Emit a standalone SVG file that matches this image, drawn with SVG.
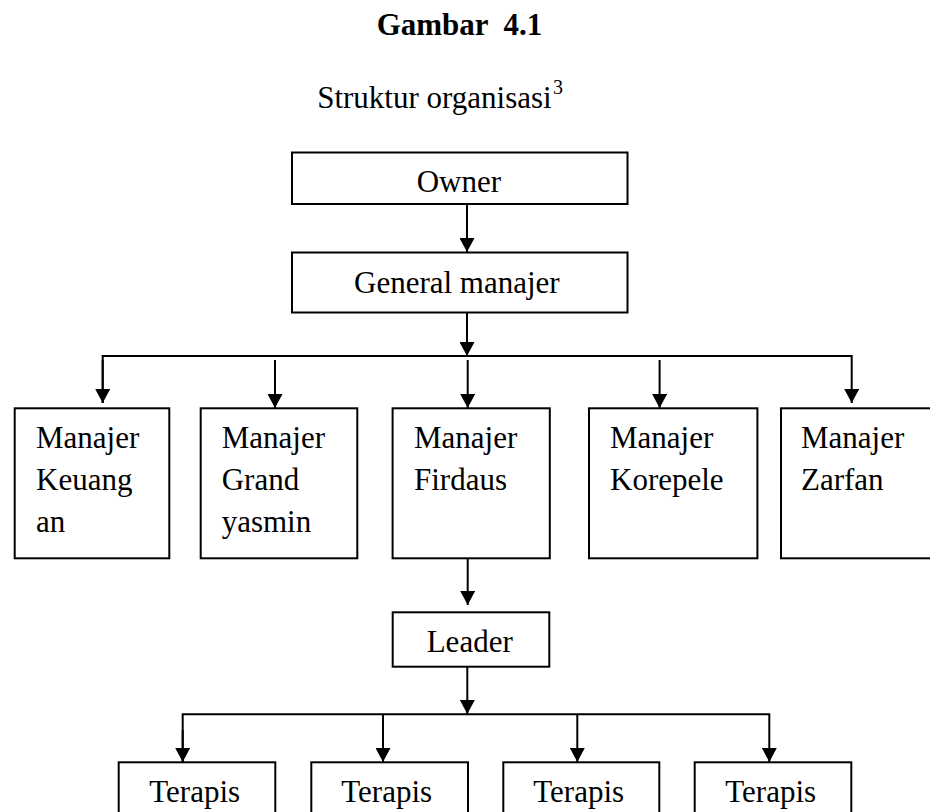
<svg xmlns="http://www.w3.org/2000/svg" width="930" height="812" viewBox="0 0 930 812">
<style>
text { font-family: "Liberation Serif", "Times New Roman", serif; fill: #000; font-size: 31px; }
.title { font-weight: bold; }
.box { fill: #fff; stroke: #000; stroke-width: 2; }
.conn { fill: none; stroke: #000; stroke-width: 2; }
</style>
<defs>
<marker id="arr" markerUnits="userSpaceOnUse" markerWidth="15" markerHeight="15" refX="14" refY="7.5" orient="auto">
<path d="M0,0 L14,7.5 L0,15 z" fill="#000"/>
</marker>
</defs>
<rect width="930" height="812" fill="#fff"/>
<text class="title" x="376.7" y="35" xml:space="preserve">Gambar  4.1</text>
<text x="551.7" y="108" text-anchor="end">Struktur organisasi</text>
<text x="553" y="94" style="font-size:20px">3</text>

<g id="connectors">
<line class="conn" x1="467" y1="204" x2="467" y2="252" marker-end="url(#arr)"/>
<line class="conn" x1="467" y1="313" x2="467" y2="356" marker-end="url(#arr)"/>
<polyline class="conn" points="102.7,403 102.7,356 851.7,356 851.7,403" marker-end="url(#arr)"/>
<path class="conn" d="M102.7,360 L102.7,403" marker-end="url(#arr)"/>
<line class="conn" x1="275" y1="360" x2="275" y2="408" marker-end="url(#arr)"/>
<line class="conn" x1="467.7" y1="360" x2="467.7" y2="408" marker-end="url(#arr)"/>
<line class="conn" x1="659.6" y1="360" x2="659.6" y2="408" marker-end="url(#arr)"/>
<line class="conn" x1="467.7" y1="558" x2="467.7" y2="605" marker-end="url(#arr)"/>
<line class="conn" x1="467.3" y1="667" x2="467.3" y2="714" marker-end="url(#arr)"/>
<polyline class="conn" points="182.7,762 182.7,714.3 769.3,714.3 769.3,762" marker-end="url(#arr)"/>
<path class="conn" d="M182.7,730 L182.7,762" marker-end="url(#arr)"/>
<line class="conn" x1="383" y1="714.3" x2="383" y2="762" marker-end="url(#arr)"/>
<line class="conn" x1="577.3" y1="714.3" x2="577.3" y2="762" marker-end="url(#arr)"/>
</g>

<g id="owner">
<rect class="box" x="292" y="152.5" width="335.5" height="51.5"/>
<text x="416.7" y="191.7">Owner</text>
</g>
<g id="general-manajer">
<rect class="box" x="292" y="252.5" width="335.5" height="60"/>
<text x="354" y="292.7">General manajer</text>
</g>

<g id="manajer-keuangan">
<rect class="box" x="14.7" y="408.3" width="154.6" height="150"/>
<text x="36" y="448">Manajer</text>
<text x="36" y="490">Keuang</text>
<text x="36" y="532">an</text>
</g>
<g id="manajer-grand-yasmin">
<rect class="box" x="200.7" y="408.3" width="156.6" height="150"/>
<text x="221.7" y="448">Manajer</text>
<text x="221.7" y="490">Grand</text>
<text x="221.7" y="532">yasmin</text>
</g>
<g id="manajer-firdaus">
<rect class="box" x="392.6" y="408.3" width="157.2" height="150"/>
<text x="414" y="448">Manajer</text>
<text x="414" y="490">Firdaus</text>
</g>
<g id="manajer-korepele">
<rect class="box" x="589" y="408.3" width="168.4" height="150"/>
<text x="610" y="448">Manajer</text>
<text x="610" y="490">Korepele</text>
</g>
<g id="manajer-zarfan">
<rect class="box" x="781" y="408.3" width="170" height="150"/>
<text x="801" y="448">Manajer</text>
<text x="801" y="490">Zarfan</text>
</g>

<g id="leader">
<rect class="box" x="392.7" y="612.3" width="156.6" height="54.4"/>
<text x="426.7" y="651.7">Leader</text>
</g>

<g id="terapis-1">
<rect class="box" x="118.7" y="762.3" width="156.6" height="70"/>
<text x="149.3" y="801.7">Terapis</text>
</g>
<g id="terapis-2">
<rect class="box" x="311.3" y="762.3" width="156.7" height="70"/>
<text x="341.3" y="801.7">Terapis</text>
</g>
<g id="terapis-3">
<rect class="box" x="503.3" y="762.3" width="156" height="70"/>
<text x="533.3" y="801.7">Terapis</text>
</g>
<g id="terapis-4">
<rect class="box" x="694.7" y="762.3" width="156.6" height="70"/>
<text x="725.3" y="801.7">Terapis</text>
</g>
</svg>
